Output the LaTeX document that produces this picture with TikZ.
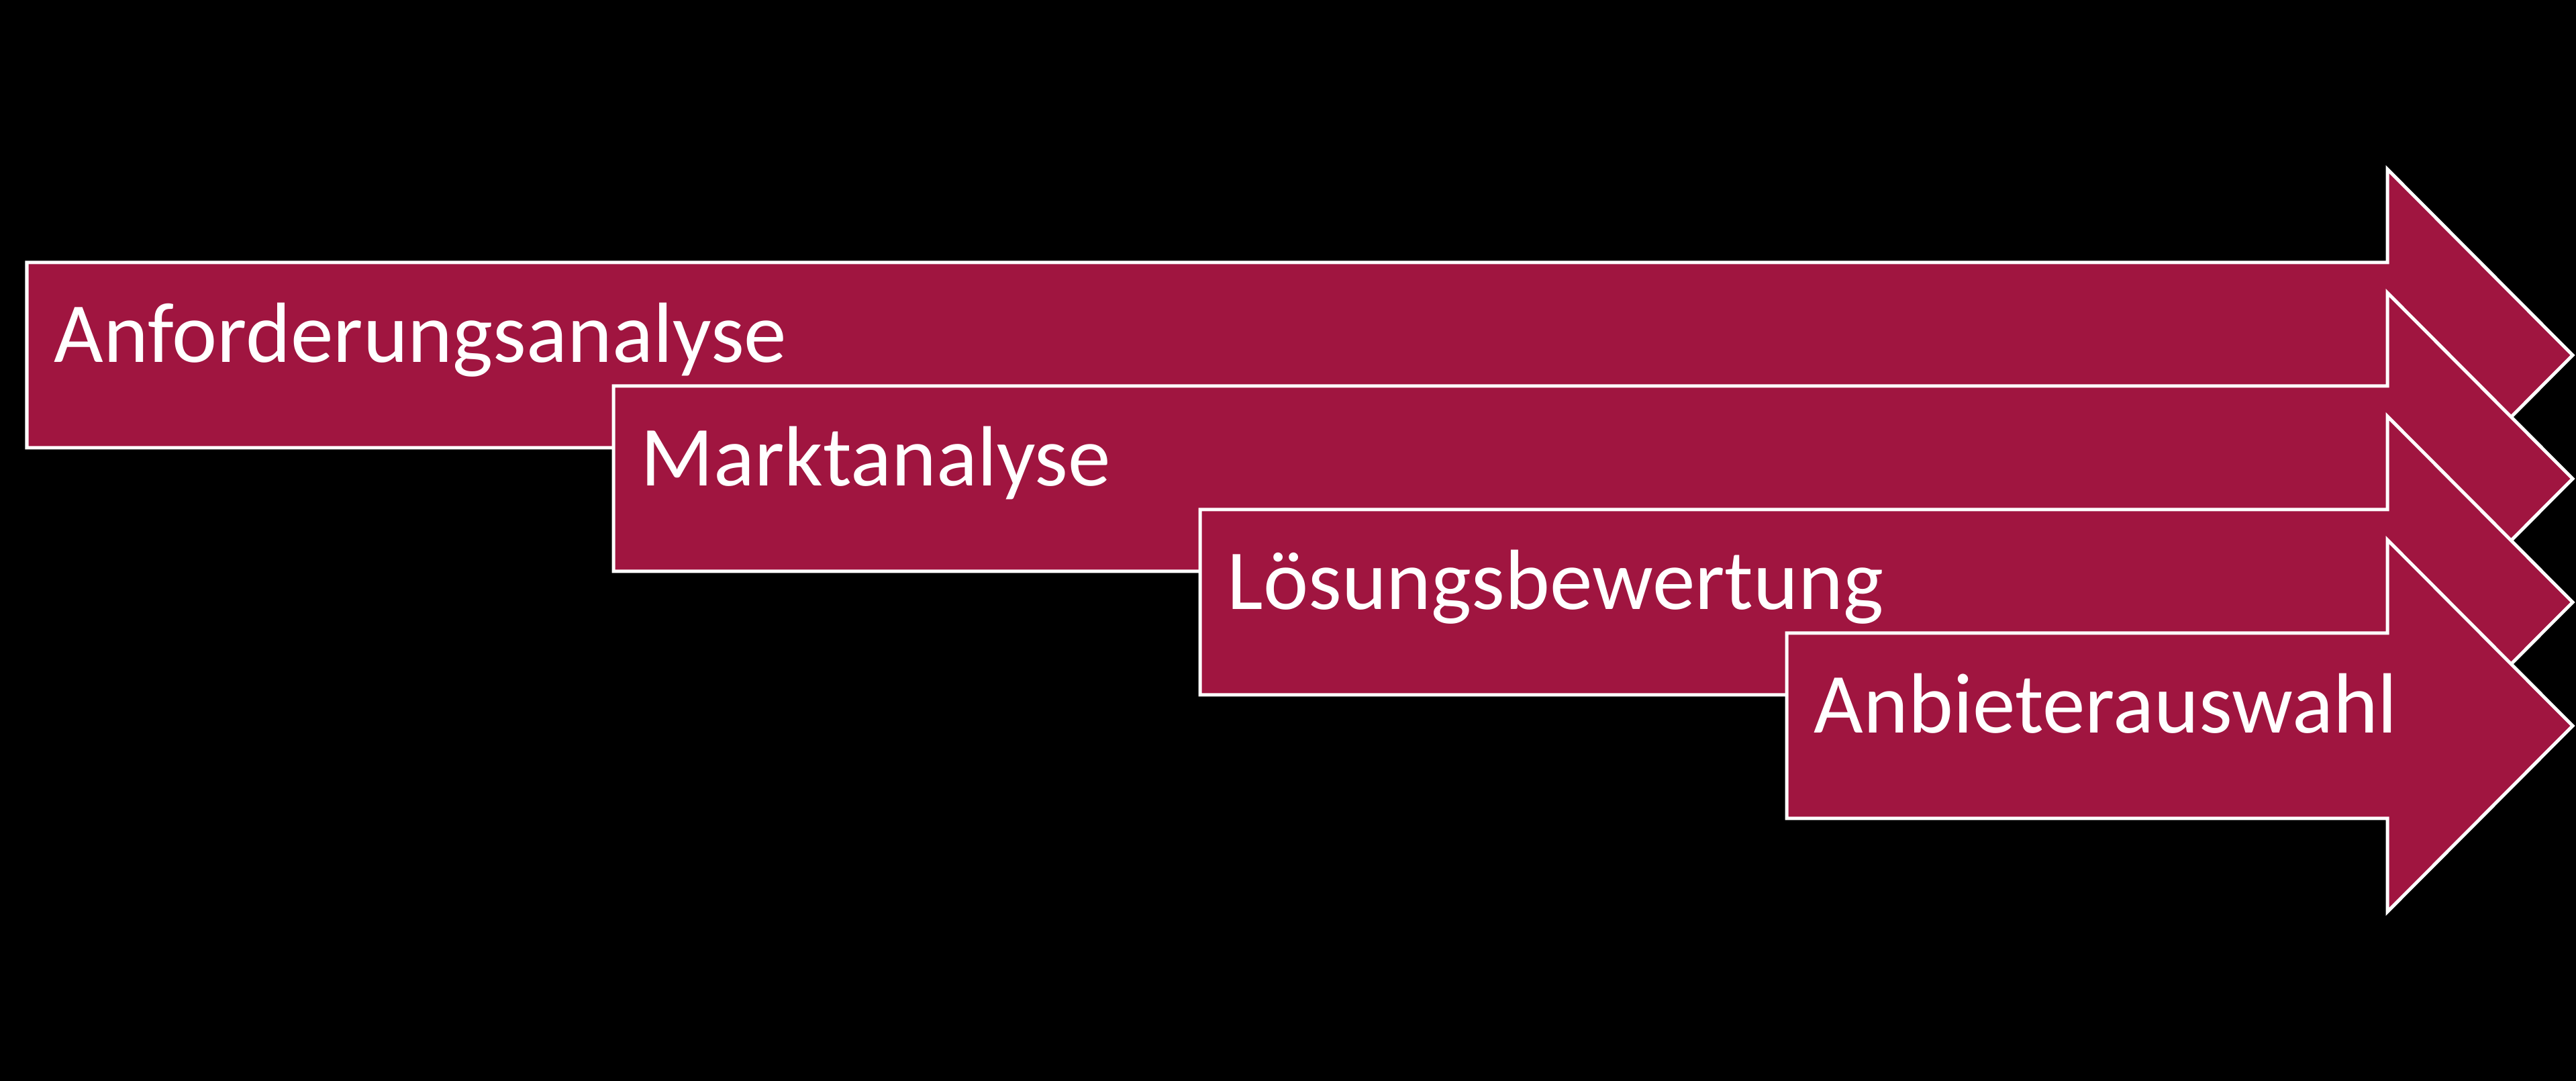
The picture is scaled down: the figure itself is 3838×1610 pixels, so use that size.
\documentclass[tikz,border=0pt]{standalone}
\usepackage{fontspec}
\setmainfont{Carlito}
\definecolor{wine}{RGB}{160,21,64}
\begin{document}
\begin{tikzpicture}[x=0.01cm,y=-0.01cm,
  arrowshape/.style={fill=wine,draw=white,line width=0.05cm,line join=miter},
  lbl/.style={text=white,font=\fontsize{36.2}{42}\selectfont,anchor=base west,inner sep=0pt}]
\fill[black] (0,0) rectangle (3838,1610);
\useasboundingbox (0,0) rectangle (3838,1610);
\foreach \i/\t in {0/Anforderungsanalyse,1/Marktanalyse,2/Lösungsbewertung,3/Anbieterauswahl}{
  \pgfmathsetmacro\L{40+874*\i}
  \pgfmathsetmacro\T{391+184*\i}
  \path[arrowshape] (\L,\T) -- (3557,\T) -- (3557,\T-139) -- (3833,\T+138)
    -- (3557,\T+415) -- (3557,\T+276) -- (\L,\T+276) -- cycle;
  \node[lbl] (a\i) at (\L+40,\T+149) {\t};
}
\end{tikzpicture}
\end{document}
